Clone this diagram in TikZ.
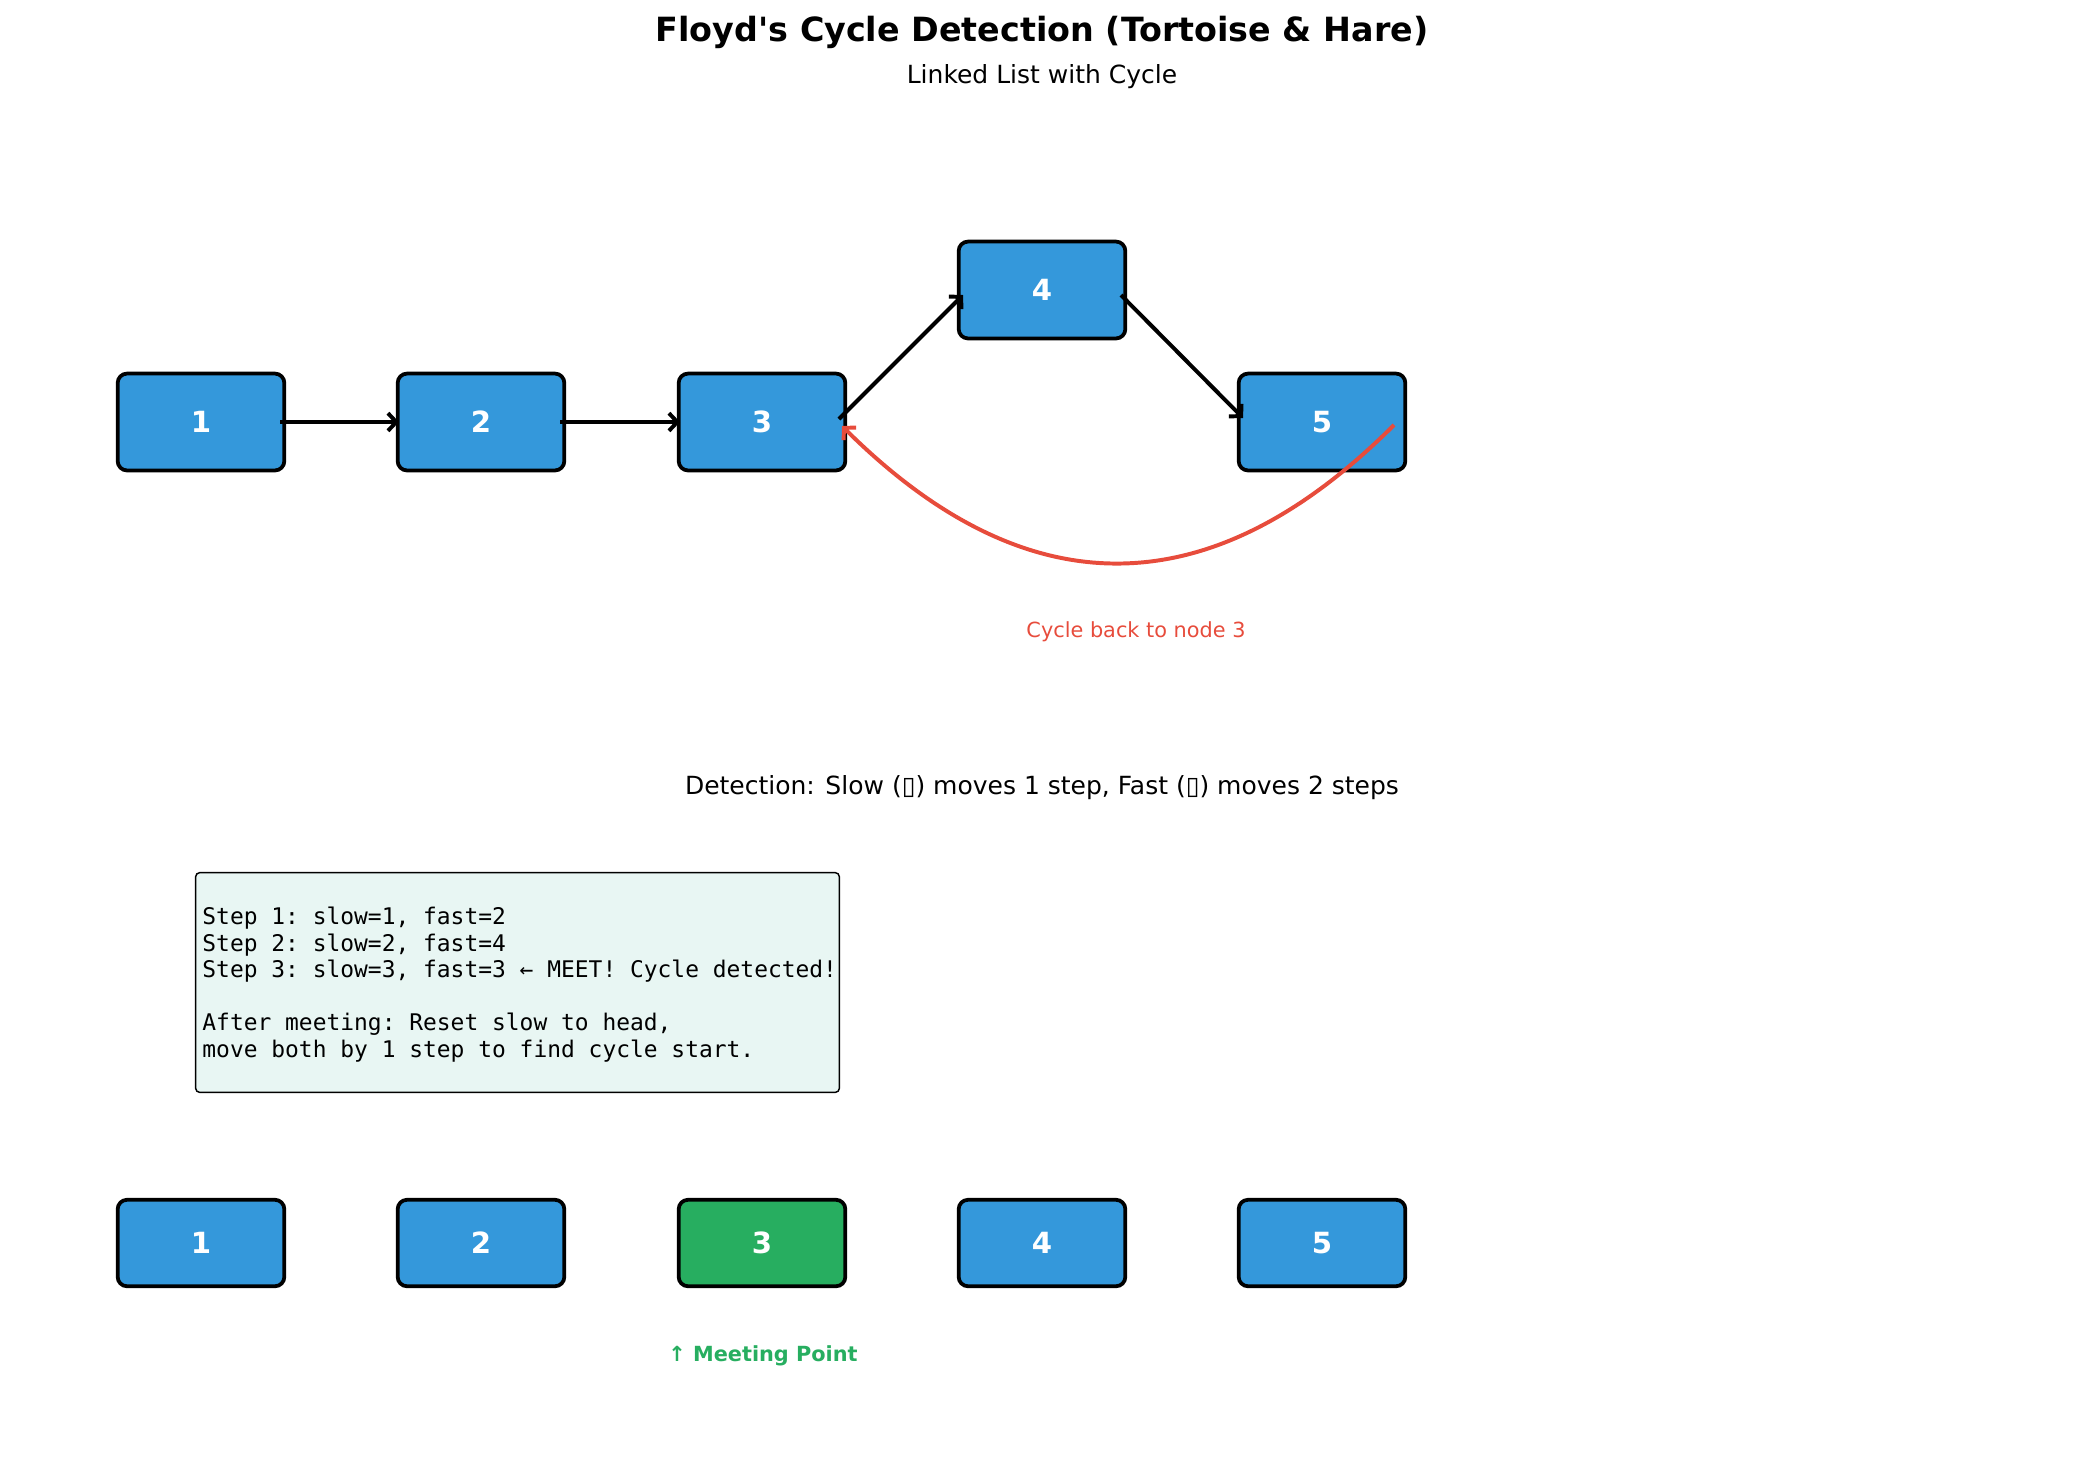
\documentclass[tikz,border=0pt]{standalone}
\usepackage{fontspec}
\setmainfont{DejaVu Sans}[Ligatures=TeXOff]
\setmonofont{DejaVu Sans Mono}
\usetikzlibrary{arrows.meta,calc}
\definecolor{nblue}{HTML}{3498DB}
\definecolor{ngreen}{HTML}{27AE60}
\definecolor{nred}{HTML}{E74C3C}
\definecolor{mint}{HTML}{E8F6F3}
\tikzset{
  nodebox/.style={draw=black, line width=1.8pt, rounded corners=4.5pt, fill=nblue,
    minimum width=80pt, minimum height=46.5pt, inner sep=0pt, text=white,
    font=\bfseries\fontsize{14}{16}\selectfont},
  lowbox/.style={nodebox, minimum height=41.5pt},
  link/.style={line width=1.9pt, -{Straight Barb[length=4pt,width=8.5pt]}},
  cyclelink/.style={line width=1.9pt, draw=nred, -{Straight Barb[length=4pt,width=8.5pt]}},
  codeline/.style={anchor=base west, inner sep=0pt, font=\ttfamily\fontsize{11}{12.8}\selectfont},
  plain/.style={inner sep=0pt}
}
\begin{document}
\begin{tikzpicture}[x=0.48pt,y=-0.48pt]
\useasboundingbox (0,0) rectangle (2085,1477);
% titles
\node[plain, font=\bfseries\fontsize{16}{19}\selectfont] (title) at (1042,32) {Floyd's Cycle Detection (Tortoise \& Hare)};
\node[plain, font=\fontsize{12}{14}\selectfont] (sub) at (1042,77) {Linked List with Cycle};
% top list
\node[nodebox] (a1) at (201,422) {1};
\node[nodebox] (a2) at (481,422) {2};
\node[nodebox] (a3) at (762,422) {3};
\node[nodebox] (a4) at (1042,290) {4};
\node[nodebox] (a5) at (1322,422) {5};
\draw[link] ($(a1)+(79,0)$) -- ($(a2)+(-82,0)$);
\draw[link] ($(a2)+(79,0)$) -- ($(a3)+(-82,0)$);
\draw[link] ($(a3)+(77,-3)$) -- ($(a4)+(-79,5)$);
\draw[link] ($(a4)+(79,5)$) -- ($(a5)+(-79,-4)$);
\draw[cyclelink] ($(a5)+(72,3)$) .. controls (1210,609) and (1026,609) .. ($(a3)+(80,4)$);
\node[plain, text=nred, font=\fontsize{10}{12}\selectfont] (cyc) at (1136,632) {Cycle back to node 3};
% detection
\node[plain, font=\fontsize{12}{14}\selectfont] (det) at (1042,788) {Detection: Slow (▯) moves 1 step, Fast (▯) moves 2 steps};
\node[draw=black, line width=0.7pt, fill=mint, rounded corners=2pt, inner sep=0pt,
  minimum width=309pt, minimum height=105.5pt] (code) at (517.5,982.5) {};
\node[codeline] (l1) at (202,924.5) {Step 1: slow=1, fast=2};
\node[codeline] (l2) at (202,951) {Step 2: slow=2, fast=4};
\node[codeline] (l3) at (202,977.5) {Step 3: slow=3, fast=3 ← MEET! Cycle detected!};
\node[codeline] (l4) at (202,1030.5) {After meeting: Reset slow to head,};
\node[codeline] (l5) at (202,1057) {move both by 1 step to find cycle start.};
% bottom list
\node[lowbox] (b1) at (201,1243) {1};
\node[lowbox] (b2) at (481,1243) {2};
\node[lowbox, fill=ngreen] (b3) at (762,1243) {3};
\node[lowbox] (b4) at (1042,1243) {4};
\node[lowbox] (b5) at (1322,1243) {5};
\node[plain, text=ngreen, font=\bfseries\fontsize{10}{12}\selectfont] (meet) at (763,1356) {↑ Meeting Point};
\end{tikzpicture}
\end{document}
